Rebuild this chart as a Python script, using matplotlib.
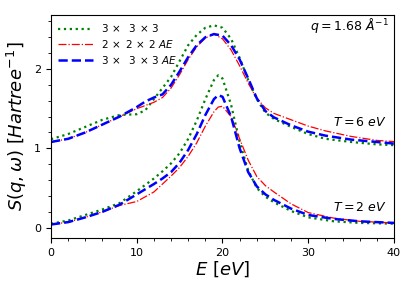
import numpy as np
import matplotlib.pyplot as plt
from matplotlib.ticker import MultipleLocator

# Energia (eV) e S(q,w)
E_hi = [0, 2, 4, 6, 8, 10, 11, 12, 13, 14, 15, 16, 17, 18, 19, 20, 21, 22, 23, 24, 25, 26, 28, 30, 32, 35, 38, 40]
s333_hi = [1.115, 1.18, 1.27, 1.36, 1.42, 1.43, 1.48, 1.62, 1.76, 1.90, 2.10, 2.30, 2.43, 2.52, 2.55, 2.52, 2.38, 2.14, 1.86, 1.62, 1.45, 1.37, 1.27, 1.18, 1.12, 1.08, 1.05, 1.04]
s222ae_hi = [1.08, 1.12, 1.20, 1.30, 1.40, 1.50, 1.54, 1.58, 1.64, 1.76, 1.93, 2.12, 2.28, 2.39, 2.44, 2.38, 2.24, 2.04, 1.82, 1.63, 1.51, 1.44, 1.36, 1.28, 1.22, 1.15, 1.10, 1.085]
s333ae_hi = [1.08, 1.12, 1.20, 1.30, 1.40, 1.52, 1.59, 1.64, 1.68, 1.80, 1.97, 2.15, 2.30, 2.40, 2.44, 2.42, 2.30, 2.12, 1.88, 1.63, 1.47, 1.39, 1.29, 1.21, 1.16, 1.11, 1.08, 1.06]

E_lo = [0, 2, 4, 6, 8, 10, 12, 13, 14, 15, 16, 17, 18, 19, 19.5, 20, 21, 22, 23, 24, 25, 26, 28, 30, 33, 36, 40]
s333_lo = [0.05, 0.09, 0.16, 0.23, 0.31, 0.46, 0.62, 0.71, 0.81, 0.94, 1.12, 1.35, 1.62, 1.86, 1.92, 1.88, 1.55, 1.08, 0.72, 0.50, 0.39, 0.32, 0.21, 0.13, 0.08, 0.06, 0.05]
s222ae_lo = [0.04, 0.07, 0.13, 0.20, 0.28, 0.33, 0.45, 0.55, 0.65, 0.76, 0.90, 1.07, 1.28, 1.46, 1.52, 1.53, 1.40, 1.12, 0.85, 0.645, 0.53, 0.45, 0.30, 0.19, 0.12, 0.08, 0.06]
s333ae_lo = [0.04, 0.07, 0.13, 0.20, 0.29, 0.42, 0.55, 0.62, 0.70, 0.82, 0.98, 1.18, 1.42, 1.62, 1.67, 1.65, 1.40, 1.00, 0.70, 0.52, 0.42, 0.35, 0.24, 0.16, 0.11, 0.08, 0.06]

etichette = [r'$3\,\times\ \ 3\,\times\,3$', r'$2\,\times\ 2\,\times\,2\ AE$', r'$3\,\times\ \ 3\,\times\,3\ AE$']

fig = plt.figure(figsize=(4.16, 2.89), dpi=100)
ax = fig.add_axes([0.1226, 0.1765, 0.8245, 0.7715])

# curve T = 6 eV
ax.plot(E_hi, s333_hi, ':', color='green', lw=1.6, label=etichette[0])
ax.plot(E_hi, s222ae_hi, '-.', color='red', lw=0.9, label=etichette[1])
ax.plot(E_hi, s333ae_hi, '--', color='blue', lw=1.8, label=etichette[2])
# curve T = 2 eV
ax.plot(E_lo, s333_lo, ':', color='green', lw=1.6)
ax.plot(E_lo, s222ae_lo, '-.', color='red', lw=0.9)
ax.plot(E_lo, s333ae_lo, '--', color='blue', lw=1.8)

ax.set_xlim(0, 40)
ax.set_ylim(-0.13, 2.68)
ax.xaxis.set_major_locator(MultipleLocator(10))
ax.xaxis.set_minor_locator(MultipleLocator(2))
ax.yaxis.set_major_locator(MultipleLocator(1))
ax.yaxis.set_minor_locator(MultipleLocator(0.2))
ax.tick_params(labelsize=8)

ax.set_xlabel(r'$E\ [eV]$', fontsize=13, labelpad=1)
ax.set_ylabel(r'$S(q,\omega)\ [Hartree^{-1}]$', fontsize=13, labelpad=4)

ax.text(39.4, 2.55, r'$q = 1.68\ \AA^{-1}$', ha='right', va='center', fontsize=9)
ax.text(39.2, 1.32, r'$T = 6\ eV$', ha='right', va='center', fontsize=9)
ax.text(39.2, 0.25, r'$T = 2\ eV$', ha='right', va='center', fontsize=9)

ax.legend(loc='upper left', frameon=False, fontsize=7.5, handlelength=3.3,
          labelspacing=0.35, borderaxespad=0.3)

fig.savefig('out.png', dpi=100)
